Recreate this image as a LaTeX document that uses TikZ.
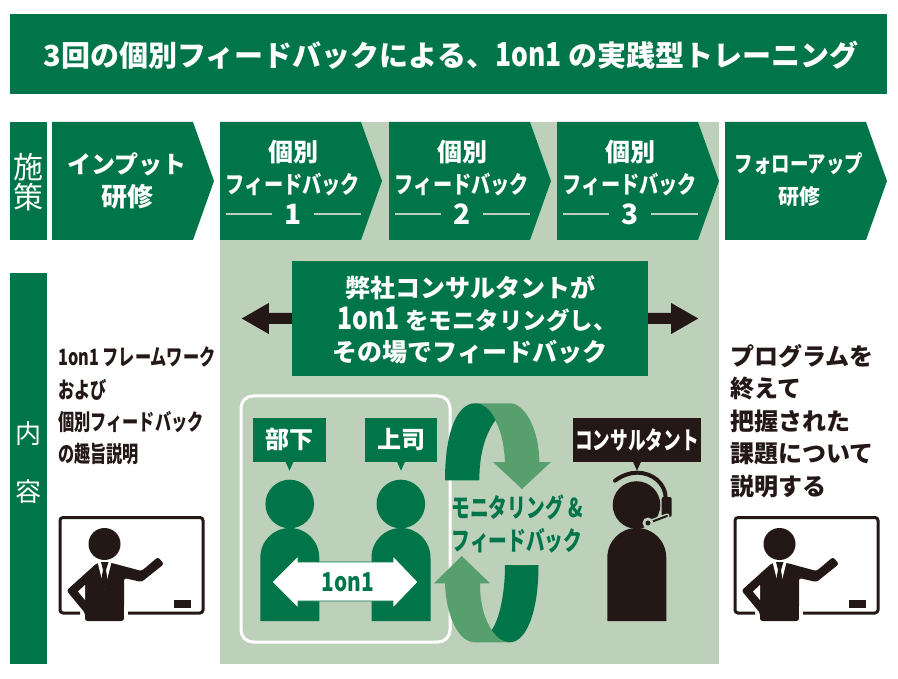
\documentclass[tikz,border=0pt]{standalone}
\usepackage{fontspec}
\setmainfont{Noto Sans CJK JP}
\newfontfamily\jpnarrow{Noto Sans CJK JP}[FakeStretch=0.8]
\newfontfamily\jpslim{Noto Sans CJK JP}[FakeStretch=0.72]
\usepackage{tikz}
\definecolor{maingreen}{HTML}{00754A}
\definecolor{palegreen}{HTML}{BCD0BA}
\definecolor{arrowgreen}{HTML}{57A06E}
\definecolor{nearblack}{HTML}{231815}
\newcommand{\oneonone}[1]{{\jpnarrow\bfseries\fontsize{#1}{#1}\selectfont 1on1}}
\tikzset{
    whitelabel/.style={text=white, inner sep=0pt, align=center, font=\bfseries},
    blacklabel/.style={text=nearblack, inner sep=0pt, align=left, anchor=west},
    tagbox/.style={fill=#1, text=white, inner sep=0pt, minimum height=44pt, font=\bfseries\fontsize{24}{24}\selectfont},
    teacher/.pic={
        \draw[nearblack, line width=3pt, rounded corners=3pt] (80,613) -- (60,613) -- (60,517.5) -- (203,517.5) -- (203,613) -- (128,613);
        \fill[nearblack] (174,600) rectangle (191,608);
        \fill[nearblack] (104.5,544) circle (16);
        \fill[nearblack, rounded corners=2.5pt] (97,563) -- (66.5,590.5) -- (85,613) -- (85,621) -- (124,621) -- (124,578) -- (141.5,582) -- (164,564) -- (158,557) -- (141.5,571) -- (112,563) -- cycle;
        \fill[white] (78,591.5) -- (85,585) -- (85,600) -- cycle;
        \fill[white] (97.5,562) -- (111.5,562) -- (104.5,590) -- cycle;
        \fill[nearblack] (101,562) -- (108.5,562) -- (106,570) -- (108,583) -- (104.5,590) -- (100.5,583) -- (103,570) -- cycle;
        \fill[white] (124,606) rectangle (128,620);
    },
}
\newcommand{\chevron}[1]{\fill[maingreen] (#1,122) -- ++(141,0) -- ++(21,59) -- ++(-21,59) -- ++(-141,0) -- cycle;}
\newcommand{\personbody}[2]{\fill[#2] (#1,621) -- (#1,558) .. controls (#1,541) and (#1+13,528) .. (#1+29.5,528) .. controls (#1+46,528) and (#1+59,541) .. (#1+59,558) -- (#1+59,621) -- cycle;}

\begin{document}
\begin{tikzpicture}[x=1pt,y=-1pt]
    \useasboundingbox (0,0) rectangle (898,679);

    % title
    \fill[maingreen] (10,14) rectangle (887,94);
    \node[whitelabel, font=\bfseries\fontsize{29}{29}\selectfont] (title) at (451,55) {3回の個別フィードバックによる、\oneonone{33} の実践型トレーニング};

    % side bars
    \fill[maingreen] (10,122) rectangle (47,240);
    \fill[maingreen] (10,273) rectangle (47,664);
    \node[whitelabel, font=\fontsize{30}{30}\selectfont] (sidea) at (28.5,167) {施};
    \node[whitelabel, font=\fontsize{30}{30}\selectfont] (sideb) at (28.5,197) {策};
    \node[whitelabel, font=\mdseries] (sidec) at (28.5,434) {\fontsize{26}{26}\selectfont 内};
    \node[whitelabel, font=\mdseries] (sided) at (28.5,492) {\fontsize{26}{26}\selectfont 容};

    % panel behind the three sessions
    \fill[palegreen] (220,122) rectangle (719,664);

    % steps
    \chevron{52}
    \chevron{725}
    \node[whitelabel, font=\bfseries\fontsize{24}{24}\selectfont] (input) at (127,164) {インプット};
    \node[whitelabel, font=\bfseries\fontsize{26}{26}\selectfont] (inputb) at (127,197) {研修};
    \node[whitelabel, font=\jpnarrow\bfseries\fontsize{23}{23}\selectfont] (follow) at (799,164) {フォローアップ};
    \node[whitelabel, font=\bfseries\fontsize{21}{21}\selectfont] (followb) at (799,197) {研修};
    \foreach \x/\n in {220/1,389/2,557/3}{
        \chevron{\x}
        \node[whitelabel, font=\bfseries\fontsize{25}{25}\selectfont] (fbtop\n) at (\x+73,152) {個別};
        \node[whitelabel, font=\jpnarrow\bfseries\fontsize{24}{24}\selectfont] (fbmid\n) at (\x+73,184) {フィードバック};
        \node[whitelabel, font=\bfseries\fontsize{28}{28}\selectfont] (fbnum\n) at (\x+73,214.5) {\n};
        \draw[palegreen, line width=1.3pt] (\x+6,214) -- (\x+52,214);
        \draw[palegreen, line width=1.3pt] (\x+94,214) -- (\x+141,214);
    }

    % monitoring box with arrows
    \node[fill=maingreen, minimum width=356pt, minimum height=115pt, inner sep=0pt] (monitor) at (470,318.5) {};
    \node[whitelabel, font=\bfseries\fontsize{25}{32}\selectfont] (monitortext) at (470,320) {弊社コンサルタントが\\\hspace*{14pt}\oneonone{31} {\fontsize{23.5}{32}\selectfont をモニタリングし、}\\その場でフィードバック};
    \fill[nearblack] (monitor.west) ++(0,-5.5) -- ++(-23,0) -- ++(0,-10) -- ++(-27,15.5) -- ++(27,15.5) -- ++(0,-10) -- ++(23,0) -- cycle;
    \fill[nearblack] (monitor.east) ++(0,-5.5) -- ++(23,0) -- ++(0,-10) -- ++(27,15.5) -- ++(-27,15.5) -- ++(0,-10) -- ++(-23,0) -- cycle;

    % side texts
    \node[blacklabel, font=\jpslim\bfseries\fontsize{22.5}{32.3}\selectfont] (leftnote) at (58,406) {1on1 フレームワーク\\および\\個別フィードバック\\の趣旨説明};
    \node[blacklabel, font=\bfseries\fontsize{24}{32.5}\selectfont] (rightnote) at (730,421) {プログラムを\\終えて\\把握された\\課題について\\説明する};

    % people
    \draw[white, line width=3pt, rounded corners=12pt] (241,396) rectangle (450,642);
    \node[tagbox=maingreen, minimum width=73pt] (staff) at (289.5,440) {部下};
    \node[tagbox=maingreen, minimum width=72pt] (boss) at (401,440) {上司};
    \node[tagbox=nearblack, minimum width=128pt, font=\jpslim\bfseries\fontsize{24.5}{24.5}\selectfont] (consultant) at (637,440) {コンサルタント};
    \foreach \tagname in {staff,boss}{
        \fill[maingreen] (\tagname.south) ++(-4,-0.5) -- ++(8,0) -- ++(-4,9) -- cycle;
    }
    \fill[nearblack] (consultant.south) ++(-4,-0.5) -- ++(8,0) -- ++(-4,9) -- cycle;
    \fill[maingreen] (289.7,504) circle (24.3);
    \fill[maingreen] (400.8,504) circle (24.3);
    \personbody{260.3}{maingreen}
    \personbody{371.5}{maingreen}
    \fill[nearblack] (636.5,505) circle (23.8);
    \personbody{607.3}{nearblack}

    % headset
    \draw[nearblack, line width=4pt, line cap=round] (615,480.7) .. controls (622,475.5) and (630,472.7) .. (637,472.7) .. controls (653,472.7) and (665.7,484) .. (665.7,498.3);
    \fill[nearblack, rounded corners=2pt] (661.7,497) rectangle (671.7,517);
    \draw[palegreen, line width=5pt, line cap=round] (667,516) -- (650,522.5);
    \draw[nearblack, line width=2pt, line cap=round] (667,516) -- (650,522.5);
    \fill[palegreen] (648,523) circle (5.5);
    \fill[nearblack] (648,523) circle (2.5);

    % 1on1 arrow
    \fill[white, draw=maingreen, line width=0.8pt] (272,582) -- (298,556) -- (298,562) -- (393,562) -- (393,556) -- (418,582) -- (393,608) -- (393,601) -- (298,601) -- (298,608) -- cycle;
    \node[inner sep=0pt, text=maingreen, font=\jpnarrow\bfseries\fontsize{26}{26}\selectfont] (oneonone) at (348,582) {1on1};

    % circular arrows
    \fill[arrowgreen] (475,403.3) -- (510,403.3) .. controls (525,403.3) and (539.3,430) .. (539.3,462) -- (551,462) -- (522,489) -- (493,462) -- (505,462) .. controls (504,440) and (499,425) .. (493,417) .. controls (488,409) and (482,403.3) .. (475,403.3) -- cycle;
    \fill[maingreen] (445,480.3) .. controls (445,430) and (458,403.3) .. (475,403.3) .. controls (483,403.3) and (490,409) .. (495.5,420) .. controls (487,432) and (479.3,450) .. (479.3,480.3) -- cycle;
    \fill[arrowgreen] (445,583.3) -- (434,583.3) -- (461.7,556) -- (490,583.3) -- (480,583.3) .. controls (480,605) and (485,620) .. (491.7,630) .. controls (497,638) and (503,642.3) .. (510,642.3) -- (475,642.3) .. controls (458,642.3) and (446,615) .. (445,583.3) -- cycle;
    \fill[maingreen] (505,565) -- (538.5,565) .. controls (538.5,615) and (525,642.3) .. (510,642.3) .. controls (503,642.3) and (497,638) .. (491.7,630) .. controls (499,620) and (505,595) .. (505,565) -- cycle;
    \node[text=maingreen, inner sep=0pt, align=center, font=\jpslim\bfseries\fontsize{26}{33}\selectfont] (cycletext) at (517,524) {モニタリング \&\\フィードバック};

    % presenters
    \pic (presenterleft) at (0,0) {teacher};
    \pic (presenterright) at (675,0) {teacher};
\end{tikzpicture}
\end{document}
